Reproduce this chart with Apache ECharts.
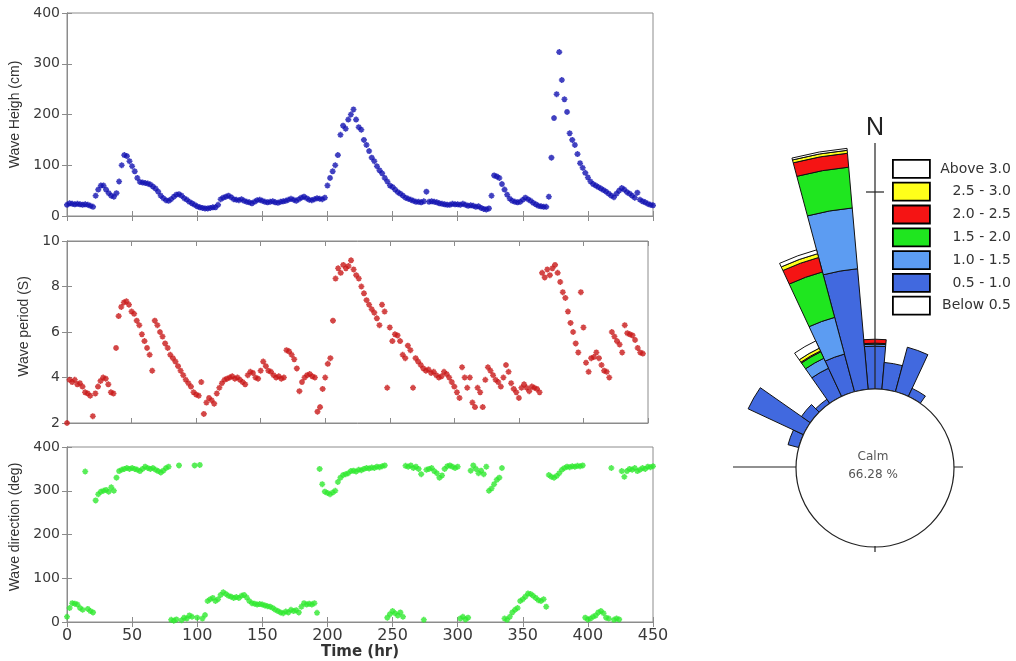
<!DOCTYPE html>
<html><head><meta charset="utf-8">
<script src="https://cdn.jsdelivr.net/npm/echarts@6/dist/echarts.min.js"></script>
<style>html,body{margin:0;padding:0;background:#fff}#c{width:1016px;height:661px}</style>
</head><body><div id="c"></div>
<script>
// ---- time series data (2-hour sampling) ----
const hours = [
0,2,4,6,8,10,12,14,16,18,
20,22,24,26,28,30,32,34,36,38,
40,42,44,46,48,50,52,54,56,58,
60,62,64,66,68,70,72,74,76,78,
80,82,84,86,88,90,92,94,96,98,
100,102,104,106,108,110,112,114,116,118,
120,122,124,126,128,130,132,134,136,138,
140,142,144,146,148,150,152,154,156,158,
160,162,164,166,168,170,172,174,176,178,
180,182,184,186,188,190,192,194,196,198,
200,202,204,206,208,210,212,214,216,218,
220,222,224,226,228,230,232,234,236,238,
240,242,244,246,248,250,252,254,256,258,
260,262,264,266,268,270,272,274,276,278,
280,282,284,286,288,290,292,294,296,298,
300,302,304,306,308,310,312,314,316,318,
320,322,324,326,328,330,332,334,336,338,
340,342,344,346,348,350,352,354,356,358,
360,362,364,366,368,370,372,374,376,378,
380,382,384,386,388,390,392,394,396,398,
400,402,404,406,408,410,412,414,416,418,
420,422,424,426,428,430,432,434,436,438,
440,442,444,446,448,450];

const waveHeight = [
22,25,24,23,24,23,22,23,22,20,
18,40,52,60,60,52,45,40,38,45,
68,100,120,118,108,98,88,75,67,66,
65,64,62,58,54,48,40,35,31,30,
33,38,42,43,40,35,32,28,25,22,
19,17,16,15,15,16,17,17,22,33,
36,38,40,37,33,32,31,33,30,28,
27,25,28,31,32,30,28,27,28,29,
27,26,28,29,30,32,34,32,30,33,
36,38,35,32,31,33,35,34,33,36,
60,75,88,100,120,160,178,172,190,200,
210,190,175,170,150,140,128,115,108,98,
90,84,75,68,60,57,52,47,44,40,
36,34,32,30,28,28,27,29,48,28,
29,28,27,25,24,23,22,22,24,23,
23,22,24,22,20,21,20,18,19,16,
14,13,15,40,80,78,75,63,52,42,
34,30,28,27,28,32,36,33,30,26,
23,20,19,18,18,38,115,193,240,323,
268,230,205,163,150,140,122,104,95,85,
76,68,63,60,57,54,51,48,44,40,
37,44,50,55,52,47,44,40,36,46,
32,29,27,24,22,21];

const wavePeriod = [
2.0,3.9,3.8,3.9,3.7,3.75,3.6,3.35,3.3,3.2,
2.3,3.3,3.6,3.85,4.0,3.95,3.7,3.35,3.3,5.3,
6.7,7.1,7.3,7.35,7.2,6.9,6.8,6.5,6.3,5.9,
5.6,5.3,5.0,4.3,6.5,6.3,6.0,5.8,5.5,5.3,
5.0,4.85,4.7,4.5,4.3,4.1,3.9,3.75,3.6,3.35,
3.25,3.2,3.8,2.4,2.9,3.1,3.0,2.85,3.3,3.55,
3.75,3.9,3.95,4.0,4.05,3.95,4.0,3.9,3.8,3.7,
4.1,4.25,4.2,4.0,3.95,4.3,4.7,4.5,4.3,4.25,
4.1,4.0,4.05,3.95,4.0,5.2,5.15,5.0,4.8,4.4,
3.4,3.8,4.0,4.1,4.15,4.05,4.0,2.5,2.7,3.5,
4.0,4.6,4.85,6.5,8.35,8.8,8.6,8.95,8.8,8.9,
9.15,8.75,8.5,8.35,8.0,7.7,7.4,7.2,7.0,6.85,
6.6,6.3,7.2,6.9,3.55,6.2,5.6,5.9,5.85,5.6,
5.0,4.85,5.4,5.2,3.55,4.85,4.7,4.55,4.4,4.3,
4.35,4.2,4.25,4.1,4.0,4.05,4.25,4.15,4.0,3.8,
3.6,3.35,3.1,4.45,4.0,3.55,4.0,2.9,2.7,3.55,
3.35,2.7,3.9,4.45,4.3,4.1,3.9,3.8,3.6,4.0,
4.55,4.25,3.75,3.5,3.35,3.1,3.55,3.7,3.55,3.4,
3.6,3.55,3.5,3.35,8.6,8.4,8.75,8.5,8.8,8.95,
8.6,8.2,7.75,7.5,6.9,6.4,6.0,5.5,5.1,7.75,
6.2,4.65,4.25,4.85,4.9,5.1,4.85,4.55,4.3,4.25,
4.0,6.0,5.8,5.6,5.45,5.1,6.3,5.95,5.9,5.85,
5.65,5.3,5.1,5.05,null,null];

const waveDirection = [
12,32,43,42,40,32,28,344,30,25,
22,278,292,298,300,302,298,308,300,330,
345,348,350,352,350,352,350,348,345,350,
355,352,350,352,348,345,342,346,352,355,
5,3,6,358,4,10,8,15,12,358,
10,359,8,16,48,52,55,48,52,62,
68,64,60,58,55,57,55,60,62,56,
48,43,42,40,41,40,38,36,35,32,
28,25,22,20,24,22,28,25,27,22,
35,43,40,42,40,43,21,350,315,298,
295,292,296,300,320,330,336,338,340,345,
346,344,348,347,350,352,351,353,352,355,
354,356,358,10,18,25,20,15,22,12,
357,355,358,352,355,350,338,5,348,350,
352,345,340,330,335,350,356,358,355,352,
355,8,12,6,10,346,358,350,340,346,
338,355,300,305,315,325,330,352,8,5,
12,22,28,32,48,52,58,65,64,60,
55,50,48,52,35,336,332,330,334,340,
348,352,355,354,356,355,357,356,358,10,
6,8,12,15,22,25,20,10,8,352,
5,8,6,345,332,345,350,348,352,345,
348,352,350,355,354,356];

// ---- wave rose data (frequency %, 10-degree bins, 0 = North) ----
const dirBins = ['0','10','20','30','40','50','60','70','80','90','100','110',
 '120','130','140','150','160','170','180','190','200','210','220','230',
 '240','250','260','270','280','290','300','310','320','330','340','350'];
const classNames = ['Below 0.5','0.5 - 1.0','1.0 - 1.5','1.5 - 2.0','2.0 - 2.5','2.5 - 3.0','Above 3.0'];
const freqBelow05 = [0,0,0,0,0,0,0,0,0,0,0,0, 0,0,0,0,0,0,0,0,0,0,0,0, 0,0,0,0,0,0,0,0,0,0,0,0];
const freq05to10 = [2.18,1.37,2.34,0.45,0,0,0,0,0,0,0,0, 0,0,0,0,0,0,0,0,0,0,0,0, 0,0,0,0,0,0.56,3.10,0.55,0.25,1.58,1.98,6.15];
const freq10to15 = [0.10,0,0,0,0,0,0,0,0,0,0,0, 0,0,0,0,0,0,0,0,0,0,0,0, 0,0,0,0,0,0,0,0,0,0.56,1.93,3.10];
const freq15to20 = [0.05,0,0,0,0,0,0,0,0,0,0,0, 0,0,0,0,0,0,0,0,0,0,0,0, 0,0,0,0,0,0,0,0,0,0.36,2.39,2.08];
const freq20to25 = [0.20,0,0,0,0,0,0,0,0,0,0,0, 0,0,0,0,0,0,0,0,0,0,0,0, 0,0,0,0,0,0,0,0,0,0.05,0.76,0.71];
const freq25to30 = [0,0,0,0,0,0,0,0,0,0,0,0, 0,0,0,0,0,0,0,0,0,0,0,0, 0,0,0,0,0,0,0,0,0,0.15,0.20,0.15];
const freqAbove30 = [0,0,0,0,0,0,0,0,0,0,0,0, 0,0,0,0,0,0,0,0,0,0,0,0, 0,0,0,0,0,0,0,0,0,0.41,0.20,0.10];
const calmLabel = 'Calm';
const calmPercent = '66.28 %';

// ---- styles ----
const classColors = ['#ffffff','#4169df','#5c9cf2','#1fe61f','#f51414','#ffff1a','#ffffff'];
const axisColor = '#8c8c8c';
const labelColor = '#3a3a3a';
const star = 'path://M5,0L5,10M0,5L10,5M1.6,1.6L8.4,8.4M8.4,1.6L1.6,8.4';

const grids = [
  {left:67, top:13, width:586, height:203},
  {left:67, top:241, width:581, height:182},
  {left:67, top:447, width:586, height:175}
];
const yCfg = [
  {min:0, max:400, interval:100, name:'Wave Heigh (cm)', gap:43, pad:0},
  {min:2, max:10, interval:2, name:'Wave period (S)', gap:34, pad:11},
  {min:0, max:400, interval:100, name:'Wave direction (deg)', gap:43, pad:15}
];
const xAxes = [], yAxes = [];
grids.forEach((g, i) => {
  const common = {type:'value', gridIndex:i, min:0, max:450, interval:50,
    axisLine:{show:true, lineStyle:{color:axisColor}},
    axisTick:{show:true, inside:true, length:5, lineStyle:{color:axisColor}},
    splitLine:{show:false}};
  xAxes.push(Object.assign({}, common, {position:'bottom',
    axisLabel:{show:i===2, color:labelColor, fontSize:16, fontFamily:'DejaVu Sans', margin:6},
    name: i===2 ? 'Time (hr)' : '', nameLocation:'middle', nameGap:23,
    nameTextStyle:{fontWeight:'bold', fontSize:15, fontFamily:'DejaVu Sans', color:'#333'}}));
  xAxes.push(Object.assign({}, common, {position:'top', axisLabel:{show:false}}));
  const y = yCfg[i];
  const yc = {type:'value', gridIndex:i, min:y.min, max:y.max, interval:y.interval,
    axisLine:{show:true, lineStyle:{color:axisColor}},
    axisTick:{show:true, inside:true, length:5, lineStyle:{color:axisColor}},
    splitLine:{show:false}};
  yAxes.push(Object.assign({}, yc, {position:'left',
    axisLabel:{color:labelColor, fontSize:14, fontFamily:'DejaVu Sans', margin:7},
    name:y.name, nameLocation:'middle', nameGap:y.gap,
    nameTextStyle:{fontSize:14, fontFamily:'Liberation Sans', color:'#333', padding:[0,0,0,y.pad]}}));
  yAxes.push(Object.assign({}, yc, {position:'right', axisLabel:{show:false}}));
});

function pts(vals){ const out=[]; hours.forEach((t,i)=>{ if(vals[i]!==null) out.push([t, vals[i]]); }); return out; }
function scatter(i, vals, color){
  return {type:'scatter', xAxisIndex:2*i, yAxisIndex:2*i, data:pts(vals), symbol:star, symbolSize:6,
    itemStyle:{color:color, borderColor:color, borderWidth:1.6}, silent:true};
}
const roseArrays = [freqBelow05, freq05to10, freq10to15, freq15to20, freq20to25, freq25to30, freqAbove30];
const roseSeries = classNames.map((name, k) => ({
  type:'bar', name:name, coordinateSystem:'polar', stack:'rose', barCategoryGap:'0%',
  data: roseArrays[k].map(v => v === 0 ? '-' : v),
  itemStyle:{color:classColors[k], borderColor:'#111', borderWidth:1}, silent:true
}));

const chart = echarts.init(document.getElementById('c'), null, {renderer:'canvas'});
chart.setOption({
  animation:false,
  backgroundColor:'#fff',
  grid: grids.map(g => Object.assign({show:true, borderColor:axisColor, borderWidth:1, backgroundColor:'#fff'}, g)),
  xAxis: xAxes,
  yAxis: yAxes,
  polar: {center:[875,468], radius:[79,325]},
  angleAxis: {type:'category', data:dirBins, startAngle:95, clockwise:true,
    axisLine:{show:false}, axisTick:{show:false}, axisLabel:{show:false}, splitLine:{show:false}},
  radiusAxis: {type:'value', min:0, max:12.5,
    axisLine:{show:false}, axisTick:{show:false}, axisLabel:{show:false}, splitLine:{show:false}},
  legend: {data: classNames.slice().reverse(), orient:'vertical', left:887, top:154,
    itemWidth:37, itemHeight:18, itemGap:3, icon:'rect', selectedMode:false,
    itemStyle:{borderColor:'#000', borderWidth:1.8},
    formatter: n => '{t|' + n + '}',
    textStyle:{rich:{t:{width:76, align:'right', fontSize:14, fontFamily:'DejaVu Sans', color:'#333'}}}},
  series: [
    scatter(0, waveHeight, '#1010b0'),
    scatter(1, wavePeriod, '#c81818'),
    scatter(2, waveDirection, '#2ee82e')
  ].concat(roseSeries),
  graphic: [
    {type:'line', shape:{x1:733,y1:467,x2:963,y2:467}, style:{stroke:'#222', lineWidth:1.2}, z:1},
    {type:'circle', shape:{cx:875,cy:468,r:79}, style:{fill:'#fff', stroke:'#222', lineWidth:1.2}, z:5},
    {type:'line', shape:{x1:875,y1:143,x2:875,y2:389}, style:{stroke:'#222', lineWidth:1.2}, z:10},
    {type:'line', shape:{x1:866,y1:192,x2:884,y2:192}, style:{stroke:'#222', lineWidth:1.2}, z:10},
    {type:'line', shape:{x1:875,y1:546,x2:875,y2:552}, style:{stroke:'#222', lineWidth:1.2}, z:10},
    {type:'text', x:875, y:128, style:{text:'N', fontSize:25, fontFamily:'Liberation Sans', fill:'#222', align:'center', verticalAlign:'middle'}, z:11},
    {type:'text', x:873, y:457, style:{text:calmLabel, fontSize:12, fontFamily:'DejaVu Sans', fill:'#555', align:'center', verticalAlign:'middle'}, z:11},
    {type:'text', x:873, y:475, style:{text:calmPercent, fontSize:12, fontFamily:'DejaVu Sans', fill:'#555', align:'center', verticalAlign:'middle'}, z:11}
  ]
});
</script></body></html>
